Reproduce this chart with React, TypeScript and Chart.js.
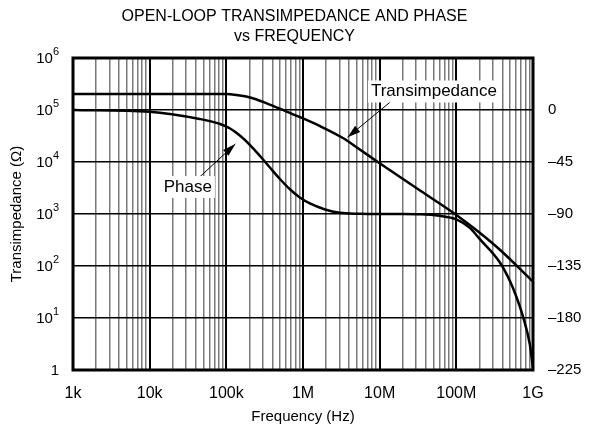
import React, { useEffect, useRef } from 'react';
import { Chart, registerables } from 'chart.js';

Chart.register(...registerables);

const FONT = "'Liberation Sans', Arial, Helvetica, sans-serif";

const titleLines = ['OPEN-LOOP TRANSIMPEDANCE AND PHASE', 'vs FREQUENCY'];
const xAxisTitle = 'Frequency (Hz)';
const yAxisTitle = 'Transimpedance (Ω)';

const xDecades = [1e3, 1e4, 1e5, 1e6, 1e7, 1e8, 1e9];
const xDecadeLabels = ['1k', '10k', '100k', '1M', '10M', '100M', '1G'];
const xMinorMultipliers = [2, 3, 4, 5, 6, 7, 8, 9];

const yDecades = [1, 10, 100, 1e3, 1e4, 1e5, 1e6];
const yLabelBase = ['1', '10', '10', '10', '10', '10', '10'];
const yLabelExp = ['', '1', '2', '3', '4', '5', '6'];

const phaseTicks = [-225, -180, -135, -90, -45, 0];
const phaseTickLabels = ['–225', '–180', '–135', '–90', '–45', '0'];
const phaseMin = -225;
const phaseMax = 45;

// Transimpedance (ohms) vs frequency (Hz)
const zFreq = [1e3, 1e4, 1e5, 1.12e5, 2.04e5, 3.36e5, 6.1e5, 1e6, 1.67e6, 3.36e6, 5.5e6, 1e7, 3.36e7, 1e8, 2e8, 3.7e8, 1e9];
const zValue = [2.03e5, 2.03e5, 2.02e5, 2.0e5, 1.74e5, 1.345e5, 9.3e4, 6.9e4, 4.9e4, 2.86e4, 1.74e4, 9.5e3, 2.83e3, 9.6e2, 4.4e2, 2.05e2, 5.0e1];

// Phase (degrees) vs frequency (Hz)
const phFreq = [1e3, 1e4, 4.5e4, 8.3e4, 1.12e5, 1.5e5, 2.04e5, 2.75e5, 3.7e5, 5e5, 6.8e5, 9.1e5, 1.23e6, 1.94e6, 3.0e6, 5.5e6, 1e7, 2e7, 3.4e7, 6e7, 1e8, 1.5e8, 2.04e8, 3.7e8, 5e8, 6.1e8, 7.5e8, 9.1e8, 1e9];
const phValue = [0, -1.5, -7.8, -12.1, -16, -22.1, -30.3, -39.8, -49.8, -59.7, -68.8, -75.7, -80.9, -86.1, -88.9, -89.8, -90, -90, -90.2, -91.5, -94.6, -102, -112, -132, -148, -162, -180, -203, -223.5];

// Annotations: [frequency, transimpedance-axis value]
const annoTexts = ['Transimpedance', 'Phase'];
const annoLabelAt = [[5.1e7, 2.27e5], [3.14e4, 3.3e3]];
const annoArrowFrom = [[1.48e7, 1.56e5], [4.2e4, 4.7e3]];
const annoArrowTo = [[3.82e6, 3.0e4], [1.31e5, 2.22e4]];

const xGridValues: number[] = [];
for (let d = 0; d < xDecades.length; d++) {
  xGridValues.push(xDecades[d]);
  if (d < xDecades.length - 1) {
    for (const m of xMinorMultipliers) xGridValues.push(m * xDecades[d]);
  }
}

const overlayPlugin = {
  id: 'overlay',
  afterDraw(chart: any) {
    const { ctx, chartArea: ca, scales } = chart;
    const xs = scales.x;
    const ys = scales.y;
    ctx.save();
    // frame
    ctx.strokeStyle = '#000';
    ctx.lineWidth = 3;
    ctx.strokeRect(ca.left, ca.top, ca.right - ca.left, ca.bottom - ca.top);

    // annotations
    ctx.font = `17px ${FONT}`;
    annoTexts.forEach((t, i) => {
      const fx = xs.getPixelForValue(annoArrowFrom[i][0]);
      const fy = ys.getPixelForValue(annoArrowFrom[i][1]);
      const tx = xs.getPixelForValue(annoArrowTo[i][0]);
      const ty = ys.getPixelForValue(annoArrowTo[i][1]);
      ctx.strokeStyle = '#000';
      ctx.fillStyle = '#000';
      ctx.lineWidth = 1;
      ctx.beginPath();
      ctx.moveTo(fx, fy);
      ctx.lineTo(tx, ty);
      ctx.stroke();
      const a = Math.atan2(ty - fy, tx - fx);
      const L = 13;
      const W = 4;
      const c = Math.cos(a);
      const s = Math.sin(a);
      ctx.beginPath();
      ctx.moveTo(tx, ty);
      ctx.lineTo(tx - L * c + W * s, ty - L * s - W * c);
      ctx.lineTo(tx - L * c - W * s, ty - L * s + W * c);
      ctx.closePath();
      ctx.fill();

      const lx = xs.getPixelForValue(annoLabelAt[i][0]);
      const ly = ys.getPixelForValue(annoLabelAt[i][1]);
      const w = ctx.measureText(t).width;
      ctx.fillStyle = '#fff';
      ctx.fillRect(lx - w / 2 - 3, ly - 11, w + 6, 22);
      ctx.fillStyle = '#000';
      ctx.textAlign = 'center';
      ctx.textBaseline = 'middle';
      ctx.fillText(t, lx, ly);
    });

    // left axis labels with superscript exponents
    const rightEdge = ca.left - 14;
    ctx.fillStyle = '#000';
    ctx.textBaseline = 'middle';
    ctx.textAlign = 'right';
    yDecades.forEach((v, i) => {
      const py = ys.getPixelForValue(v) + 1;
      const exp = yLabelExp[i];
      let x = rightEdge;
      if (exp) {
        ctx.font = `11px ${FONT}`;
        const ew = ctx.measureText(exp).width;
        ctx.fillText(exp, x, py - 7);
        x -= ew;
      }
      ctx.font = `15px ${FONT}`;
      ctx.fillText(yLabelBase[i], x, py);
    });
    ctx.restore();
  },
};

export default function App() {
  const ref = useRef<HTMLCanvasElement | null>(null);

  useEffect(() => {
    if (!ref.current) return;
    const chart = new Chart(ref.current, {
      type: 'line',
      data: {
        datasets: [
          {
            label: 'Transimpedance',
            data: zFreq.map((f, i) => ({ x: f, y: zValue[i] })),
            yAxisID: 'y',
            borderColor: '#000',
            borderWidth: 2.5,
            pointRadius: 0,
            cubicInterpolationMode: 'monotone',
            fill: false,
          },
          {
            label: 'Phase',
            data: phFreq.map((f, i) => ({ x: f, y: phValue[i] })),
            yAxisID: 'y2',
            borderColor: '#000',
            borderWidth: 2.5,
            pointRadius: 0,
            cubicInterpolationMode: 'monotone',
            fill: false,
          },
        ],
      },
      options: {
        animation: false,
        responsive: false,
        devicePixelRatio: 1,
        layout: { padding: 0 },
        plugins: {
          legend: { display: false },
          tooltip: { enabled: false },
          title: {
            display: true,
            text: titleLines,
            color: '#000',
            font: { family: FONT, size: 16, weight: 'normal', lineHeight: 1.25 },
            padding: { top: 7, bottom: 11 },
          },
        },
        scales: {
          x: {
            type: 'logarithmic',
            position: 'bottom',
            min: 1e3,
            max: 1e9,
            afterBuildTicks: (s: any) => {
              s.ticks = xGridValues.map((v) => ({ value: v }));
            },
            afterFit: (s: any) => {
              s.height = 63;
            },
            ticks: {
              autoSkip: false,
              maxRotation: 0,
              minRotation: 0,
              padding: 14,
              color: '#000',
              font: { family: FONT, size: 16 },
              callback: (v: any) => {
                const i = xDecades.indexOf(Number(v));
                return i >= 0 ? xDecadeLabels[i] : '';
              },
            },
            grid: {
              drawTicks: false,
              color: (c: any) => (c.tick && xDecades.includes(c.tick.value) ? '#000' : '#7a7a7a'),
              lineWidth: (c: any) => (c.tick && xDecades.includes(c.tick.value) ? 2 : 1.5),
            },
            border: { display: false },
            title: {
              display: true,
              text: xAxisTitle,
              color: '#000',
              font: { family: FONT, size: 15 },
              padding: { top: 0, bottom: 7 },
            },
          },
          y: {
            type: 'logarithmic',
            position: 'left',
            min: 1,
            max: 1e6,
            afterBuildTicks: (s: any) => {
              s.ticks = yDecades.map((v) => ({ value: v }));
            },
            afterFit: (s: any) => {
              s.width = 73;
            },
            ticks: { display: false },
            grid: { drawTicks: false, color: '#000', lineWidth: 1.5 },
            border: { display: false },
            title: {
              display: true,
              text: yAxisTitle,
              color: '#000',
              font: { family: FONT, size: 15 },
              padding: { top: 8, bottom: 0 },
            },
          },
          y2: {
            type: 'linear',
            position: 'right',
            min: phaseMin,
            max: phaseMax,
            afterBuildTicks: (s: any) => {
              s.ticks = phaseTicks.map((v) => ({ value: v }));
            },
            afterFit: (s: any) => {
              s.width = 56;
            },
            ticks: {
              padding: 15,
              color: '#000',
              font: { family: FONT, size: 15 },
              callback: (v: any) => {
                const i = phaseTicks.indexOf(Number(v));
                return i >= 0 ? phaseTickLabels[i] : '';
              },
            },
            grid: { display: false, drawTicks: false },
            border: { display: false },
          },
        },
      } as any,
      plugins: [overlayPlugin],
    });
    return () => chart.destroy();
  }, []);

  return (
    <div style={{ position: 'fixed', left: 0, top: 0, width: 589, height: 433, background: '#fff' }}>
      <canvas ref={ref} width={589} height={433} style={{ display: 'block', width: 589, height: 433 }} />
    </div>
  );
}
